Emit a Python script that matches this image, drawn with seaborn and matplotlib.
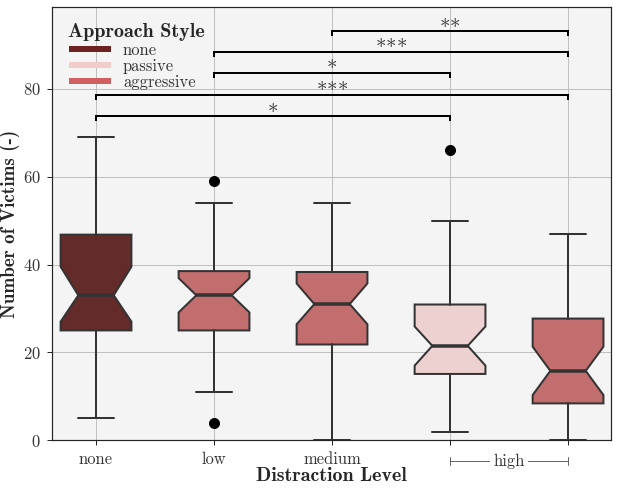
import matplotlib
matplotlib.use('Agg')
import matplotlib.pyplot as plt
from matplotlib.lines import Line2D
import seaborn as sns

# ---- data ----
positions = [0, 1, 2, 3, 4]
tick_labels = ['none', 'low', 'medium', '', '']
box_styles = ['none', 'aggressive', 'aggressive', 'passive', 'aggressive']
whislo = [5, 11, 0, 2, 0]
q1 = [25, 25, 21.8, 15.1, 8.4]
med = [33, 33, 31, 21.5, 15.8]
q3 = [46.8, 38.5, 38.3, 30.9, 27.7]
whishi = [69, 54, 54, 50, 47]
cilo = [27.0, 29.1, 26.4, 17.0, 10.3]
cihi = [39.5, 36.9, 35.7, 25.9, 21.3]
fliers = [[], [59, 4], [], [66], []]

legend_labels = ['none', 'passive', 'aggressive']
legend_colors = ['#6e2121', '#f2cbcb', '#d06060']

sig_left = [0, 0, 1, 1, 2]
sig_right = [3, 4, 3, 4, 4]
sig_y = [73.8, 78.6, 83.6, 88.4, 93.1]
sig_stars = [1, 3, 1, 3, 2]

# ---- style ----
sns.set_theme(style='whitegrid', rc={
    'axes.facecolor': '#f4f4f4',
    'axes.edgecolor': '#262626',
    'axes.linewidth': 1.2,
    'grid.color': '#c0c0c0',
    'grid.linewidth': 1.0,
    'xtick.bottom': True,
    'ytick.left': True,
    'xtick.color': '#262626',
    'ytick.color': '#262626',
    'axes.formatter.use_mathtext': True,
})
plt.rcParams['font.family'] = ['cmr10', 'DejaVu Serif']
plt.rcParams['mathtext.fontset'] = 'cm'

palette = dict(zip(legend_labels, legend_colors))

fig = plt.figure(figsize=(617 / 72, 492 / 72), dpi=72)
ax = fig.add_axes([52 / 617, 1 - 440.3 / 492, (611 - 52) / 617, (440.3 - 7) / 492])

stats = []
for i in range(len(positions)):
    stats.append(dict(med=med[i], q1=q1[i], q3=q3[i], whislo=whislo[i], whishi=whishi[i],
                      cilo=cilo[i], cihi=cihi[i], fliers=fliers[i]))

dark = '#333333'
bp = ax.bxp(stats, positions=positions, widths=0.6, shownotches=True, patch_artist=True,
            boxprops=dict(edgecolor=dark, linewidth=2),
            medianprops=dict(color=dark, linewidth=3.5),
            whiskerprops=dict(color=dark, linewidth=2),
            capprops=dict(color=dark, linewidth=2),
            flierprops=dict(marker='o', markerfacecolor='black', markeredgecolor='black', markersize=10),
            manage_ticks=False, zorder=3)
for patch, st in zip(bp['boxes'], box_styles):
    patch.set_facecolor(sns.desaturate(palette[st], 0.75))

ax.set_xlim(-0.373, 4.364)
ax.set_ylim(0, 98.6)
ax.set_xticks(positions)
ax.set_xticklabels(tick_labels)
ax.set_yticks([0, 20, 40, 60, 80])
ax.tick_params(axis='both', labelsize=16.5, length=5, width=1, pad=6, labelcolor='#333333')
ax.grid(True, zorder=0)
ax.set_axisbelow(True)

ax.set_xlabel('Distraction Level', fontsize=20, family='cmb10', labelpad=0)
ax.set_ylabel('Number of Victims (-)', fontsize=19, family='cmb10', labelpad=3)

# significance brackets
tip = 1.1
for l, r, y, n in zip(sig_left, sig_right, sig_y, sig_stars):
    ax.plot([l, l, r, r], [y - tip, y, y, y - tip], color='black', lw=2, zorder=4,
            solid_capstyle='butt', solid_joinstyle='miter')
    ax.text((l + r) / 2, y + 0.1, '$' + r'{\ast}' * n + '$', ha='center', va='bottom',
            fontsize=21, color='#333333')

# "high" group bracket below axis
tr = ax.get_xaxis_transform()
yb = -0.048
ax.plot([3, 4], [yb, yb], transform=tr, color='#555555', lw=0.9, clip_on=False)
for xx in (3, 4):
    ax.plot([xx, xx], [yb - 0.01, yb + 0.01], transform=tr, color='#555555', lw=0.9, clip_on=False)
ax.text(3.5, yb, 'high', transform=tr, ha='center', va='center', fontsize=16.5, color='#333333',
        bbox=dict(facecolor='white', edgecolor='none', pad=3), clip_on=False)

handles = [Line2D([], [], color=c, lw=6, solid_capstyle='butt') for c in legend_colors]
leg = ax.legend(handles, legend_labels, title='Approach Style', loc='upper left', frameon=False,
                fontsize=16.5, handlelength=2.6, labelspacing=0.05, borderaxespad=0.6,
                alignment='left', handletextpad=0.7)
leg.get_title().set_fontfamily('cmb10')
leg.get_title().set_fontsize(20)
for txt in leg.get_texts():
    txt.set_color('#333333')

fig.savefig('out.png', dpi=72)
